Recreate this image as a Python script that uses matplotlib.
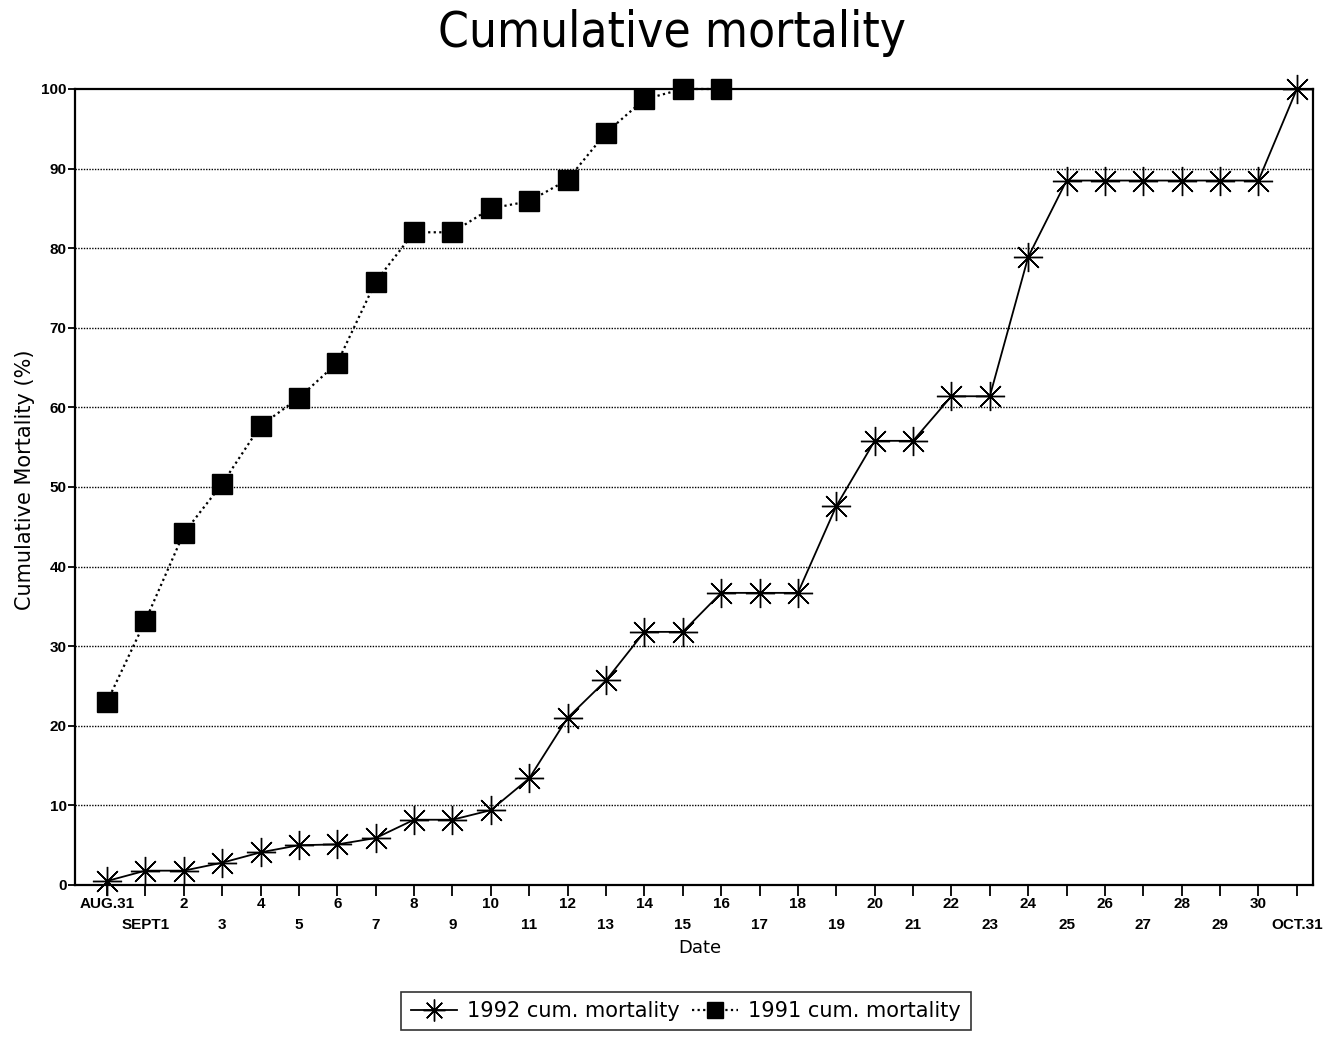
import matplotlib
matplotlib.use("Agg")
import matplotlib.pyplot as plt

# ---- data ----
date_labels = ["AUG.31", "SEPT1"] + [str(d) for d in range(2, 31)] + ["OCT.31"]
mort_1992 = [0.5, 1.8, 1.8, 2.8, 4.1, 5.0, 5.1, 5.9, 8.2, 8.2, 9.4, 13.4, 21.0,
             25.7, 31.8, 31.8, 36.7, 36.7, 36.7, 47.6, 55.8, 55.8, 61.4, 61.4,
             78.9, 88.5, 88.5, 88.5, 88.5, 88.5, 88.5, 100.0]
mort_1991 = [23.0, 33.2, 44.2, 50.4, 57.7, 61.2, 65.6, 75.8, 82.0, 82.0, 85.0,
             85.9, 88.6, 94.5, 98.7, 100.0, 100.0]
yticks = list(range(0, 101, 10))

W, H = 1333, 1037
fig = plt.figure(figsize=(W / 100, H / 100), dpi=100)
ax = fig.add_axes([75 / W, 1 - 885 / H, (1313 - 75) / W, (885 - 89) / H])

x92 = list(range(len(mort_1992)))
x91 = list(range(len(mort_1991)))

l92, = ax.plot(x92, mort_1992, color="black", lw=1.3, marker=(8, 2, 0),
               markersize=21, markeredgewidth=1.0, clip_on=False, zorder=3,
               label="1992 cum. mortality")
l91, = ax.plot(x91, mort_1991, color="black", lw=1.6, ls=(0, (1, 1.5)),
               marker="s", markersize=15, markerfacecolor="black",
               markeredgecolor="black", clip_on=False, zorder=3,
               label="1991 cum. mortality")

ax.set_xlim(-0.834, 31.42)
ax.set_ylim(0, 100)

# horizontal dotted grid
for v in yticks[1:-1]:
    ax.axhline(v, color="black", lw=1.0, ls=(0, (1, 1)), zorder=1)

for s in ax.spines.values():
    s.set_linewidth(1.6)
    s.set_color("black")

tick_font = dict(family=["Liberation Sans", "DejaVu Sans"], weight="bold", size=11)

ax.set_yticks(yticks)
ax.set_yticklabels([str(v) for v in yticks], **tick_font)
ax.tick_params(axis="y", direction="out", length=5, width=1.3, pad=1)

even = [i for i in range(len(date_labels)) if i % 2 == 0]
odd = [i for i in range(len(date_labels)) if i % 2 == 1]
ax.set_xticks(even)
ax.set_xticklabels([date_labels[i] for i in even], **tick_font)
ax.set_xticks(odd, minor=True)
ax.set_xticklabels([date_labels[i] for i in odd], minor=True, **tick_font)
ax.tick_params(axis="x", which="major", direction="out", length=8, width=1.3, pad=1)
ax.tick_params(axis="x", which="minor", direction="out", length=8, width=1.3, pad=16)

# titles and labels
fig.text(672 / W, 1 - 33 / H, "Cumulative mortality",
         family=["DejaVu Sans"], stretch="condensed", weight="light",
         size=35.5, ha="center", va="center")
fig.text(25 / W, 1 - 480 / H, "Cumulative Mortality (%)", rotation=90,
         family=["DejaVu Sans"], size=15, ha="center", va="center")
fig.text(700 / W, 1 - 948 / H, "Date", family=["DejaVu Sans"], size=13,
         ha="center", va="center")

leg = fig.legend(handles=[l92, l91], loc="center", ncol=2,
                 bbox_to_anchor=(686 / W, 1 - 1011 / H), frameon=True,
                 fancybox=False, edgecolor="black", markerscale=0.75,
                 handlelength=2.2, columnspacing=0.6, handletextpad=0.5,
                 borderpad=0.45,
                 prop=dict(family="DejaVu Sans", size=15))
leg.get_frame().set_linewidth(1.2)

fig.savefig("out.png", dpi=100)
